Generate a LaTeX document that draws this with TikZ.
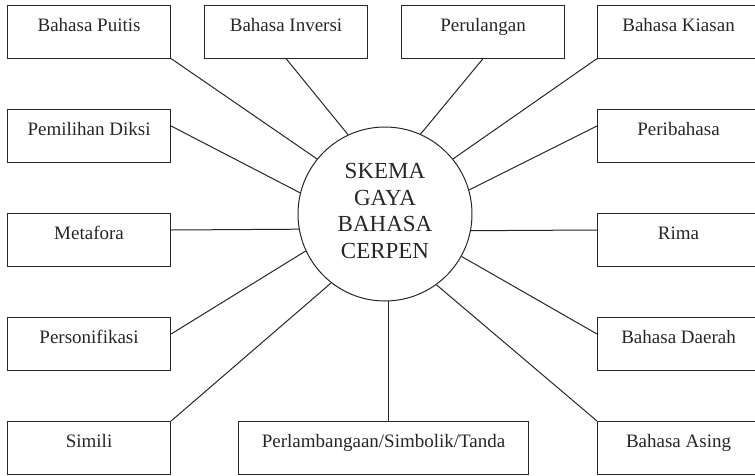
\documentclass[tikz,border=0pt]{standalone}
\usepackage{fontspec}
\setmainfont{Liberation Serif}
\usetikzlibrary{calc}
\begin{document}
\begin{tikzpicture}[x=1pt,y=-1pt,
  box/.style={draw=black!85, line width=1.1pt, rectangle, minimum width=163pt, minimum height=52.5pt,
    inner sep=0pt, text height=26pt, text depth=26.5pt, anchor=north west,
    text=black!85, font=\fontsize{19}{22}\selectfont},
  rbox/.style={box, minimum width=162pt},
  conn/.style={draw=black!85, line width=1pt},
  hub/.style={draw=black!85, line width=1pt, circle, minimum size=174pt, inner sep=0pt}]
\useasboundingbox (0,0) rectangle (755,475);
\clip (0,0) rectangle (755,475);
% boxes
\node[box] (puitis) at (7,5) {Bahasa Puitis};
\node[box] (inversi) at (204,5) {Bahasa Inversi};
\node[box] (perulangan) at (401,5) {Perulangan};
\node[rbox] (kiasan) at (597,5) {Bahasa Kiasan};
\node[box] (diksi) at (7,109) {Pemilihan Diksi};
\node[rbox] (peribahasa) at (597,109) {Peribahasa};
\node[box] (metafora) at (7,213) {Metafora};
\node[rbox] (rima) at (597,213) {Rima};
\node[box] (personifikasi) at (7,317) {Personifikasi};
\node[rbox] (daerah) at (597,317) {Bahasa Daerah};
\node[box] (simili) at (7,421) {Simili};
\node[box, minimum width=290pt] (perl) at (238,421) {Perlambangaan/Simbolik/Tanda};
\node[rbox] (asing) at (597,421) {Bahasa Asing};
% hub
\node[hub] (c) at (385,214) {};
\node[align=center, text=black!85, font=\fontsize{23}{26.7}\selectfont, yshift=3pt] (ctext) at (c) {SKEMA\\GAYA\\BAHASA\\CERPEN};
% connectors
\draw[conn] (puitis.south east) -- (c.141);
\draw[conn] (inversi.south) -- (c.115);
\draw[conn] (perulangan.south) -- (c.66);
\draw[conn] (kiasan.south west) -- (c.39);
\draw[conn] ($(diksi.north east)+(0pt,-17pt)$) -- (c.166);
\draw[conn] ($(peribahasa.north west)+(0pt,-17pt)$) -- (c.16);
\draw[conn] ($(metafora.north east)+(0pt,-17pt)$) -- (c.190.6);
\draw[conn] ($(rima.north west)+(0pt,-17pt)$) -- (c.349.4);
\draw[conn] ($(personifikasi.north east)+(0pt,-17pt)$) -- (c.205);
\draw[conn] ($(daerah.north west)+(0pt,-17pt)$) -- (c.331);
\draw[conn] (simili.north east) -- (c.232);
\draw[conn] (asing.north west) -- (c.306.5);
\draw[conn] (c.272.6) -- (c.272.6 |- perl.north);
\end{tikzpicture}
\end{document}
